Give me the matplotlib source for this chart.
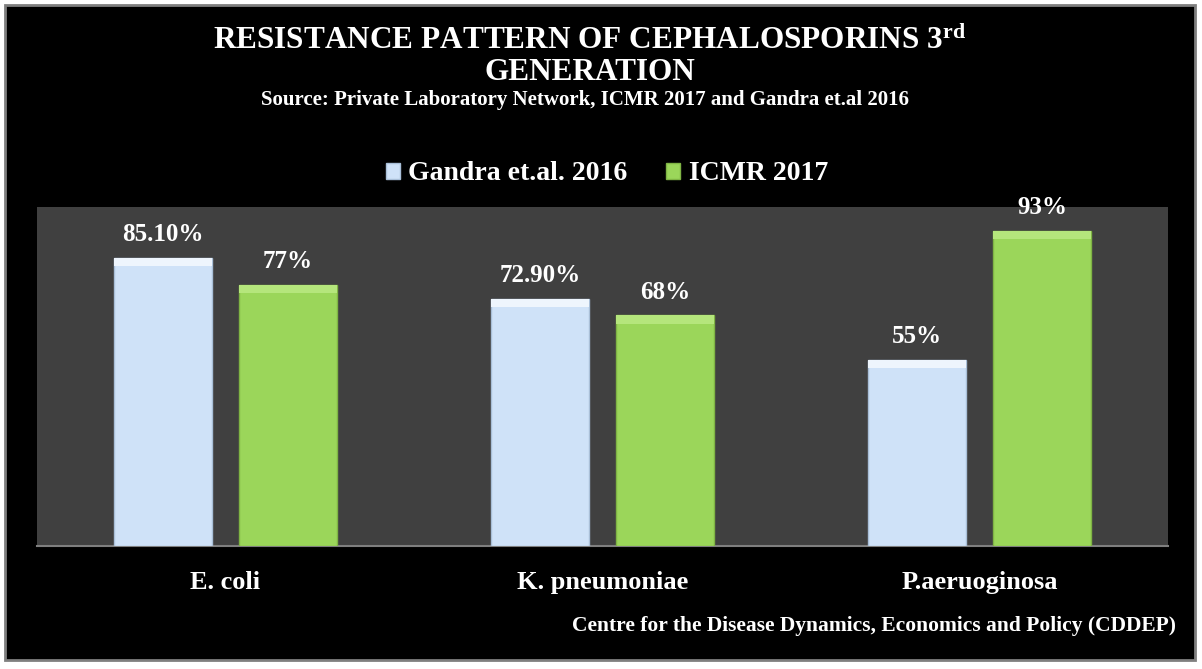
import matplotlib
matplotlib.use("Agg")
import matplotlib.pyplot as plt
from matplotlib.patches import Rectangle
import numpy as np

categories = ["E. coli", "K. pneumoniae", "P.aeruoginosa"]
series_names = ["Gandra et.al. 2016", "ICMR 2017"]
gandra = [85.10, 72.90, 55]
icmr = [77, 68, 93]
gandra_labels = ["85.10%", "72.90%", "55%"]
icmr_labels = ["77%", "68%", "93%"]

plt.rcParams['mathtext.fontset'] = 'custom'
plt.rcParams['mathtext.rm'] = 'Liberation Serif:bold'
plt.rcParams['mathtext.it'] = 'Liberation Serif:bold'
plt.rcParams['mathtext.bf'] = 'Liberation Serif:bold'

SERIF = "Liberation Serif"
fig = plt.figure(figsize=(12.02, 6.69), dpi=100)
fig.patch.set_facecolor("white")
W, H = 1202, 669
# black panel with gray border
fig.patches.append(Rectangle((5 / W, 1 - 660 / H), 1190 / W, 655 / H, transform=fig.transFigure,
                             facecolor="black", edgecolor="#7f7f7f", linewidth=2, zorder=-10))

ax = fig.add_axes([37 / W, 1 - 546 / H, 1131 / W, 339 / H])
ax.set_facecolor("#404040")
x = np.arange(len(categories))
bw = 0.26
off = 0.166
blue = "#cfe2f8"
green = "#9bd65a"
b1 = ax.bar(x - off, gandra, bw, color=blue, edgecolor="#a9bfd8", linewidth=1, zorder=3,
            label=series_names[0])
b2 = ax.bar(x + off, icmr, bw, color=green, edgecolor="#7fb444", linewidth=1, zorder=3,
            label=series_names[1])
# bevel highlight at top of bars
ax.bar(x - off, [2.5] * 3, bw, bottom=np.array(gandra) - 2.5, color="#eef5fd", linewidth=0, zorder=4)
ax.bar(x + off, [2.5] * 3, bw, bottom=np.array(icmr) - 2.5, color="#b5e67c", linewidth=0, zorder=4)

for xi, v, lab in zip(x - off, gandra, gandra_labels):
    ax.text(xi, v + 3.5, lab, ha="center", va="bottom", color="white", fontsize=18,
            fontweight="bold", family=SERIF)
for xi, v, lab in zip(x + off, icmr, icmr_labels):
    ax.text(xi, v + 3.5, lab, ha="center", va="bottom", color="white", fontsize=18,
            fontweight="bold", family=SERIF)

ax.set_xlim(-0.5, 2.5)
ax.set_ylim(0, 100)
ax.set_yticks([])
ax.set_xticks(x)
ax.set_xticklabels(categories, color="white", fontsize=19, fontweight="bold", family=SERIF)
ax.tick_params(axis="x", length=0, pad=18)
for s in ["top", "right", "left"]:
    ax.spines[s].set_visible(False)
ax.spines["bottom"].set_color("#7f7f7f")
ax.spines["bottom"].set_linewidth(1.5)

leg = fig.legend(handles=[b1, b2], labels=series_names, loc="center", ncol=2,
                 bbox_to_anchor=(607 / W, 1 - 174 / H), frameon=False,
                 prop={"family": SERIF, "weight": "bold", "size": 20},
                 handlelength=0.5, handleheight=0.5, handletextpad=0.3, columnspacing=1.4,
                 labelcolor="white")

fig.text(590 / W, 1 - 41 / H, r"RESISTANCE PATTERN OF CEPHALOSPORINS 3$^{\mathrm{rd}}$",
         ha="center", va="center", color="white", fontsize=22.5, fontweight="bold", family=SERIF)
fig.text(590 / W, 1 - 72 / H, "GENERATION", ha="center", va="center", color="white",
         fontsize=22.5, fontweight="bold", family=SERIF)
fig.text(585 / W, 1 - 100 / H, "Source: Private Laboratory Network, ICMR 2017 and Gandra et.al 2016",
         ha="center", va="center", color="white", fontsize=15, fontweight="bold", family=SERIF)
fig.text(1176 / W, 1 - 626 / H, "Centre for the Disease Dynamics, Economics and Policy (CDDEP)",
         ha="right", va="center", color="white", fontsize=15.5, fontweight="bold", family=SERIF)

fig.savefig("out.png", dpi=100, facecolor=fig.get_facecolor())
